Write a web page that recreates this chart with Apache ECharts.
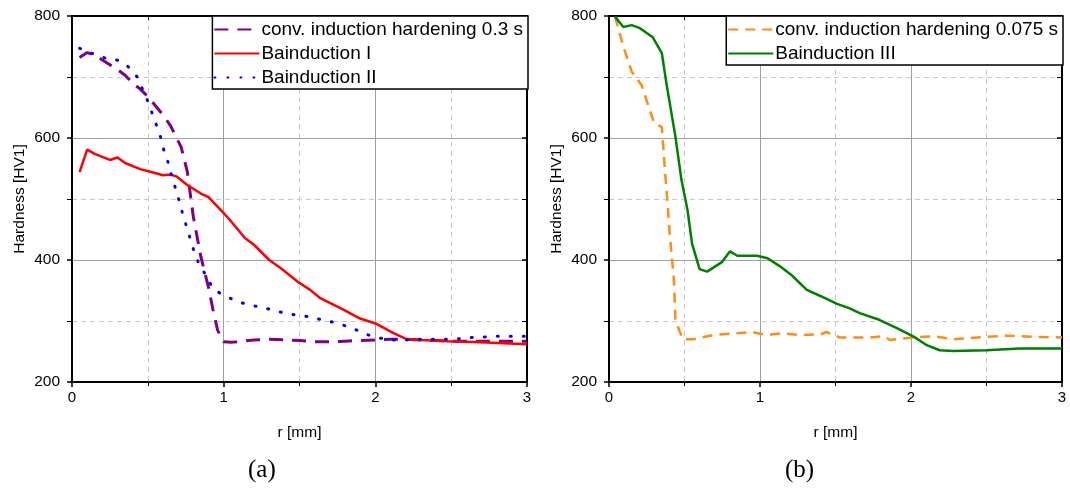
<!DOCTYPE html>
<html><head><meta charset="utf-8">
<script src="https://cdn.jsdelivr.net/npm/echarts@6/dist/echarts.min.js"></script>
<style>html,body{margin:0;padding:0;background:#fff}#c{width:1070px;height:491px}</style>
</head><body><div id="c"></div>
<script>
// ---- data (a) ----
const convA_r  = [0.05,0.1,0.15,0.2,0.25,0.3,0.35,0.4,0.45,0.5,0.55,0.6,0.65,0.68,0.72,0.76,0.8,0.85,0.9,0.93,0.96,1.0,1.05,1.1,1.2,1.3,1.4,1.5,1.6,1.7,1.8,1.9,2.0,2.1,2.2,2.3,2.4,2.5,2.6,2.7,2.8,2.9,3.0];
const convA_hv = [732,740,736,728,720,712,703,690,680,668,653,638,620,605,585,545,471,405,355,318,285,266,265,266,269,270,269,268,266,266,267,268,269,270,270,269,268,267,267,267,267,267,267];
const baiI_r   = [0.05,0.1,0.15,0.25,0.3,0.35,0.45,0.51,0.6,0.65,0.69,0.76,0.85,0.9,1.0,1.04,1.14,1.2,1.3,1.38,1.49,1.57,1.64,1.77,1.9,2.01,2.12,2.21,2.3,2.47,2.69,3.0];
const baiI_hv  = [544,581,574,564,568,559,549,545,539,540,537,523,509,503,477,466,436,425,400,386,364,351,337,321,304,295,280,270,269,267,265,262];
const baiII_r  = [0.05,0.13,0.22,0.31,0.37,0.43,0.5,0.56,0.59,0.61,0.64,0.66,0.69,0.71,0.735,0.76,0.785,0.81,0.845,0.89,0.93,1.01,1.09,1.17,1.26,1.35,1.44,1.52,1.61,1.69,1.78,1.86,1.94,2.03,2.11,2.2,2.29,2.38,2.47,2.55,2.64,2.73,2.81,2.9,2.99];
const baiII_hv = [747,739,731,727,717,700,660,619,597,575,556,534,512,493,471,451,430,410,389,373,352,341,332,326,322,316,311,309,304,300,294,287,278,272,269,269,270,270,270,271,273,274,275,275,275];
// ---- data (b) ----
const convB_r  = [0.04,0.095,0.15,0.215,0.27,0.3,0.35,0.37,0.39,0.4,0.43,0.44,0.46,0.49,0.56,0.69,0.85,0.95,1.0,1.07,1.15,1.26,1.4,1.44,1.53,1.73,1.82,1.86,2.02,2.15,2.28,2.5,2.63,2.81,3.0];
const convB_hv = [799,750,709,687,646,624,618,548,487,449,367,302,288,270,270,277,280,282,279,278,280,277,278,282,273,273,275,269,273,275,270,274,276,274,273];
const baiIII_r  = [0.04,0.095,0.15,0.205,0.25,0.29,0.35,0.38,0.44,0.48,0.52,0.55,0.6,0.65,0.75,0.8,0.85,0.98,1.05,1.13,1.21,1.31,1.4,1.51,1.59,1.66,1.79,1.91,2.02,2.1,2.19,2.28,2.5,2.72,3.0];
const baiIII_hv = [799,782,785,780,772,765,739,690,602,531,482,427,385,381,397,414,407,407,403,390,375,351,341,328,321,313,302,288,274,261,252,251,252,255,255];
// ---- axis ticks ----
const xTicks = [0,1,2,3];
const yTicks = [200,400,600,800];
const names = {
  convA: 'conv. induction hardening 0.3 s', baiI: 'Bainduction I', baiII: 'Bainduction II',
  convB: 'conv. induction hardening 0.075 s', baiIII: 'Bainduction III'
};

const zip = (a,b) => a.map((v,i)=>[v,b[i]]);
const FONT = 'Liberation Sans';
const chart = echarts.init(document.getElementById('c'));

const grids = [
  {left:72, top:16, width:455, bottom:109},
  {left:609, top:16, width:453, bottom:109}
];
function xAx(gi, pos){
  const main = pos==='bottom';
  return {
    type:'value', gridIndex:gi, position:pos, min:xTicks[0], max:xTicks[xTicks.length-1], interval:1,
    name: main?'r [mm]':'', nameLocation:'middle', nameGap:43,
    nameTextStyle:{fontFamily:FONT,fontSize:15.5,color:'#000'},
    axisLine:{show:true,onZero:false,lineStyle:{color:'#000',width:2}},
    axisTick:{show:true,inside:!main,length:5,lineStyle:{color:'#000',width:1.5}},
    minorTick:{show:true,splitNumber:2,length:4,lineStyle:{color:'#000',width:1}},
    axisLabel:{show:main,fontFamily:FONT,fontSize:15,color:'#000',margin:8},
    splitLine:{show:main,lineStyle:{color:'#a0a0a0',width:1}},
    minorSplitLine:{show:main,lineStyle:{color:'#c8c8c8',width:1,type:[5,4]}}
  };
}
function yAx(gi, pos){
  const main = pos==='left';
  return {
    type:'value', gridIndex:gi, position:pos, min:yTicks[0], max:yTicks[yTicks.length-1], interval:200,
    name: main?'Hardness [HV1]':'', nameLocation:'middle', nameGap:44, nameRotate:90,
    nameTextStyle:{fontFamily:FONT,fontSize:15.5,color:'#000'},
    axisLine:{show:true,onZero:false,lineStyle:{color:'#000',width:2}},
    axisTick:{show:true,inside:!main,length:5,lineStyle:{color:'#000',width:1.5}},
    minorTick:{show:true,splitNumber:2,length:5,lineStyle:{color:'#000',width:1}},
    axisLabel:{show:main,fontFamily:FONT,fontSize:15.5,color:'#000',margin:12},
    splitLine:{show:main,lineStyle:{color:'#a0a0a0',width:1}},
    minorSplitLine:{show:main,lineStyle:{color:'#c8c8c8',width:1,type:[5,4]}}
  };
}
function ser(name, gi, data, color, width, type, cap){
  return {type:'line', name, xAxisIndex:gi*2, yAxisIndex:gi*2, data, showSymbol:false, symbol:'circle',
    smooth:false, lineStyle:{color, width, type, cap:cap||'butt'}, itemStyle:{color}, z:3, animation:false};
}
function legend(gi, data){
  return {
    data, orient:'vertical', right: gi===0 ? 1070-528 : 1070-1063, top:16,
    itemWidth:45, itemHeight:18, itemGap:5,
    backgroundColor:'#fff', borderColor:'#000', borderWidth:1.5, borderRadius:0,
    padding:[4,5,2,1], textStyle:{fontFamily:FONT,fontSize:19,color:'#000',padding:[0,0,0,-3]},
    itemStyle:{color:'rgba(0,0,0,0)',borderWidth:0,opacity:0}, z:10
  };
}

chart.setOption({
  animation:false,
  grid: grids,
  xAxis:[xAx(0,'bottom'),xAx(0,'top'),xAx(1,'bottom'),xAx(1,'top')],
  yAxis:[yAx(0,'left'),yAx(0,'right'),yAx(1,'left'),yAx(1,'right')],
  legend:[legend(0,[names.convA,names.baiI,names.baiII]), legend(1,[names.convB,names.baiIII])],
  series:[
    ser(names.convA,0,zip(convA_r,convA_hv),'#800080',3,[14,9]),
    ser(names.baiI,0,zip(baiI_r,baiI_hv),'#ff0000',2.5,'solid'),
    ser(names.baiII,0,zip(baiII_r,baiII_hv),'#0000ff',3,[1,12],'round'),
    ser(names.convB,1,zip(convB_r,convB_hv),'#ff8c14',2.5,[10,7]),
    ser(names.baiIII,1,zip(baiIII_r,baiIII_hv),'#008000',2.5,'solid')
  ],
  graphic:[
    {type:'text',left:248,top:458,style:{text:'(a)',font:'25px "Liberation Serif"',fill:'#000'}},
    {type:'text',left:785,top:458,style:{text:'(b)',font:'25px "Liberation Serif"',fill:'#000'}}
  ]
});
</script></body></html>
